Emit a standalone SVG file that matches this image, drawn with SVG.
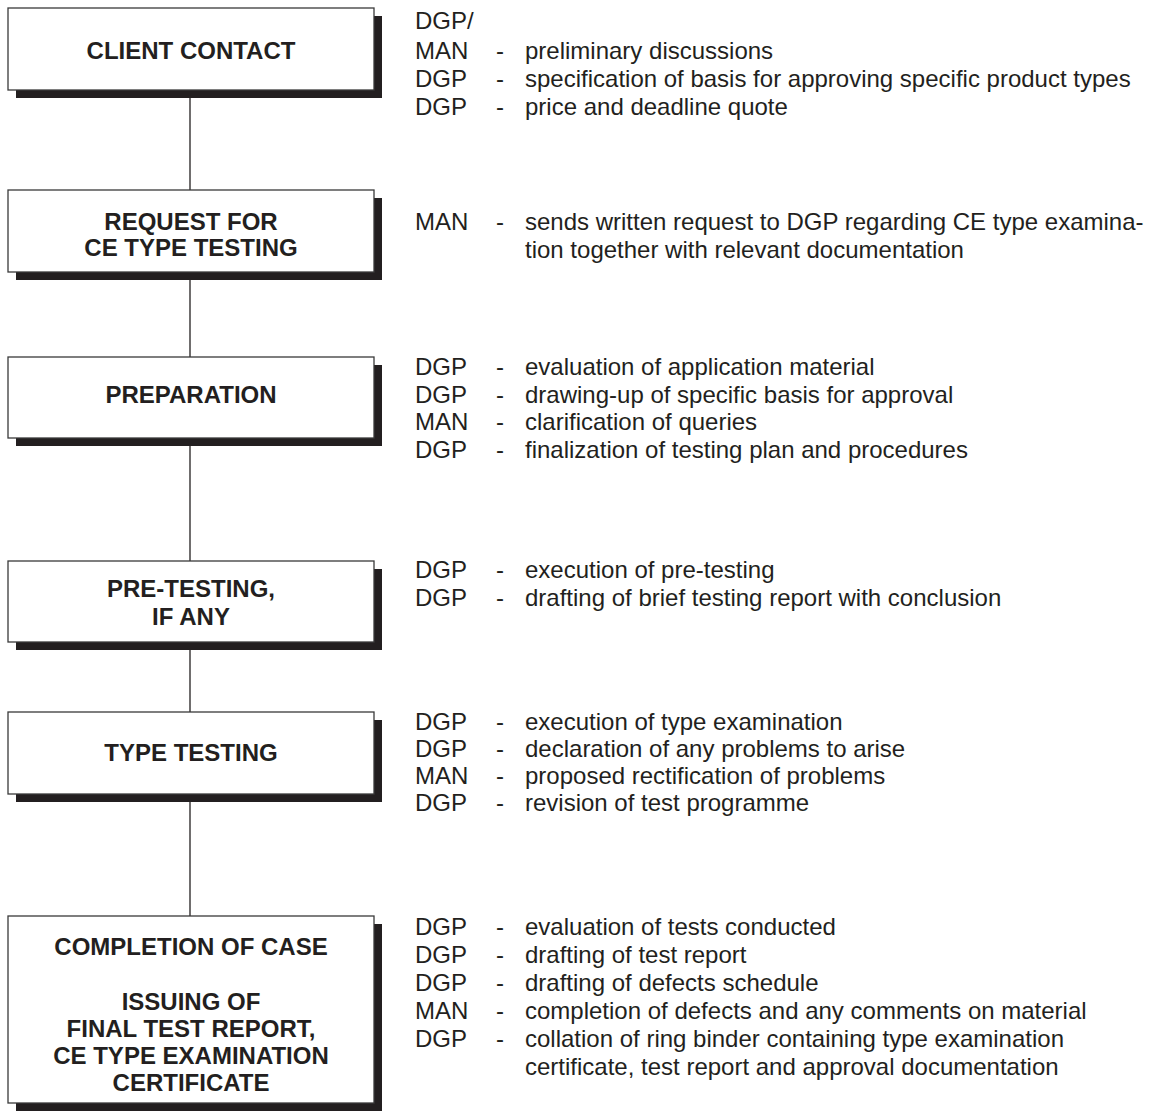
<svg xmlns="http://www.w3.org/2000/svg" width="1155" height="1111" viewBox="0 0 1155 1111">
<style>
.box{fill:#fff;stroke:#3a3a3a;stroke-width:1.3}
.sh{fill:#231f20}
.t{font-family:"Liberation Sans",Arial,sans-serif;font-weight:bold;font-size:24px;fill:#231f20;text-anchor:middle}
.d{font-family:"Liberation Sans",Arial,sans-serif;font-size:24px;fill:#231f20}
.c{stroke:#231f20;stroke-width:1.3;fill:none}
</style>
<rect width="1155" height="1111" fill="#fff"/>
<g id="connectors">
<line class="c" x1="190" y1="90" x2="190" y2="190"/>
<line class="c" x1="190" y1="272" x2="190" y2="357"/>
<line class="c" x1="190" y1="438" x2="190" y2="561"/>
<line class="c" x1="190" y1="642" x2="190" y2="712"/>
<line class="c" x1="190" y1="794" x2="190" y2="916"/>
</g>
<g id="node1">
<rect class="sh" x="16" y="16" width="366" height="82"/>
<rect class="box" x="8" y="8" width="366" height="82"/>
<text class="t" x="191" y="59">CLIENT CONTACT</text>
<text class="d"><tspan x="415" y="29">DGP/</tspan><tspan x="415" y="59">MAN</tspan><tspan x="415" y="87">DGP</tspan><tspan x="415" y="115">DGP</tspan></text>
<text class="d"><tspan x="496" y="59">-</tspan><tspan x="496" y="87">-</tspan><tspan x="496" y="115">-</tspan></text>
<text class="d"><tspan x="525" y="59">preliminary discussions</tspan><tspan x="525" y="87">specification of basis for approving specific product types</tspan><tspan x="525" y="115">price and deadline quote</tspan></text>
</g>
<g id="node2">
<rect class="sh" x="16" y="198" width="366" height="82"/>
<rect class="box" x="8" y="190" width="366" height="82"/>
<text class="t"><tspan x="191" y="230">REQUEST FOR</tspan><tspan x="191" y="256">CE TYPE TESTING</tspan></text>
<text class="d" x="415" y="230">MAN</text>
<text class="d" x="496" y="230">-</text>
<text class="d"><tspan x="525" y="230">sends written request to DGP regarding CE type examina-</tspan><tspan x="525" y="258">tion together with relevant documentation</tspan></text>
</g>
<g id="node3">
<rect class="sh" x="16" y="365" width="366" height="81"/>
<rect class="box" x="8" y="357" width="366" height="81"/>
<text class="t" x="191" y="403">PREPARATION</text>
<text class="d"><tspan x="415" y="375">DGP</tspan><tspan x="415" y="403">DGP</tspan><tspan x="415" y="430">MAN</tspan><tspan x="415" y="458">DGP</tspan></text>
<text class="d"><tspan x="496" y="375">-</tspan><tspan x="496" y="403">-</tspan><tspan x="496" y="430">-</tspan><tspan x="496" y="458">-</tspan></text>
<text class="d"><tspan x="525" y="375">evaluation of application material</tspan><tspan x="525" y="403">drawing-up of specific basis for approval</tspan><tspan x="525" y="430">clarification of queries</tspan><tspan x="525" y="458">finalization of testing plan and procedures</tspan></text>
</g>
<g id="node4">
<rect class="sh" x="16" y="569" width="366" height="81"/>
<rect class="box" x="8" y="561" width="366" height="81"/>
<text class="t"><tspan x="191" y="597">PRE-TESTING,</tspan><tspan x="191" y="625">IF ANY</tspan></text>
<text class="d"><tspan x="415" y="578">DGP</tspan><tspan x="415" y="606">DGP</tspan></text>
<text class="d"><tspan x="496" y="578">-</tspan><tspan x="496" y="606">-</tspan></text>
<text class="d"><tspan x="525" y="578">execution of pre-testing</tspan><tspan x="525" y="606">drafting of brief testing report with conclusion</tspan></text>
</g>
<g id="node5">
<rect class="sh" x="16" y="720" width="366" height="82"/>
<rect class="box" x="8" y="712" width="366" height="82"/>
<text class="t" x="191" y="761">TYPE TESTING</text>
<text class="d"><tspan x="415" y="730">DGP</tspan><tspan x="415" y="757">DGP</tspan><tspan x="415" y="784">MAN</tspan><tspan x="415" y="811">DGP</tspan></text>
<text class="d"><tspan x="496" y="730">-</tspan><tspan x="496" y="757">-</tspan><tspan x="496" y="784">-</tspan><tspan x="496" y="811">-</tspan></text>
<text class="d"><tspan x="525" y="730">execution of type examination</tspan><tspan x="525" y="757">declaration of any problems to arise</tspan><tspan x="525" y="784">proposed rectification of problems</tspan><tspan x="525" y="811">revision of test programme</tspan></text>
</g>
<g id="node6">
<rect class="sh" x="16" y="924" width="366" height="187"/>
<rect class="box" x="8" y="916" width="366" height="187"/>
<text class="t"><tspan x="191" y="955">COMPLETION OF CASE</tspan><tspan x="191" y="1010">ISSUING OF</tspan><tspan x="191" y="1037">FINAL TEST REPORT,</tspan><tspan x="191" y="1064">CE TYPE EXAMINATION</tspan><tspan x="191" y="1091">CERTIFICATE</tspan></text>
<text class="d"><tspan x="415" y="935">DGP</tspan><tspan x="415" y="963">DGP</tspan><tspan x="415" y="991">DGP</tspan><tspan x="415" y="1019">MAN</tspan><tspan x="415" y="1047">DGP</tspan></text>
<text class="d"><tspan x="496" y="935">-</tspan><tspan x="496" y="963">-</tspan><tspan x="496" y="991">-</tspan><tspan x="496" y="1019">-</tspan><tspan x="496" y="1047">-</tspan></text>
<text class="d"><tspan x="525" y="935">evaluation of tests conducted</tspan><tspan x="525" y="963">drafting of test report</tspan><tspan x="525" y="991">drafting of defects schedule</tspan><tspan x="525" y="1019">completion of defects and any comments on material</tspan><tspan x="525" y="1047">collation of ring binder containing type examination</tspan><tspan x="525" y="1075">certificate, test report and approval documentation</tspan></text>
</g>
</svg>
